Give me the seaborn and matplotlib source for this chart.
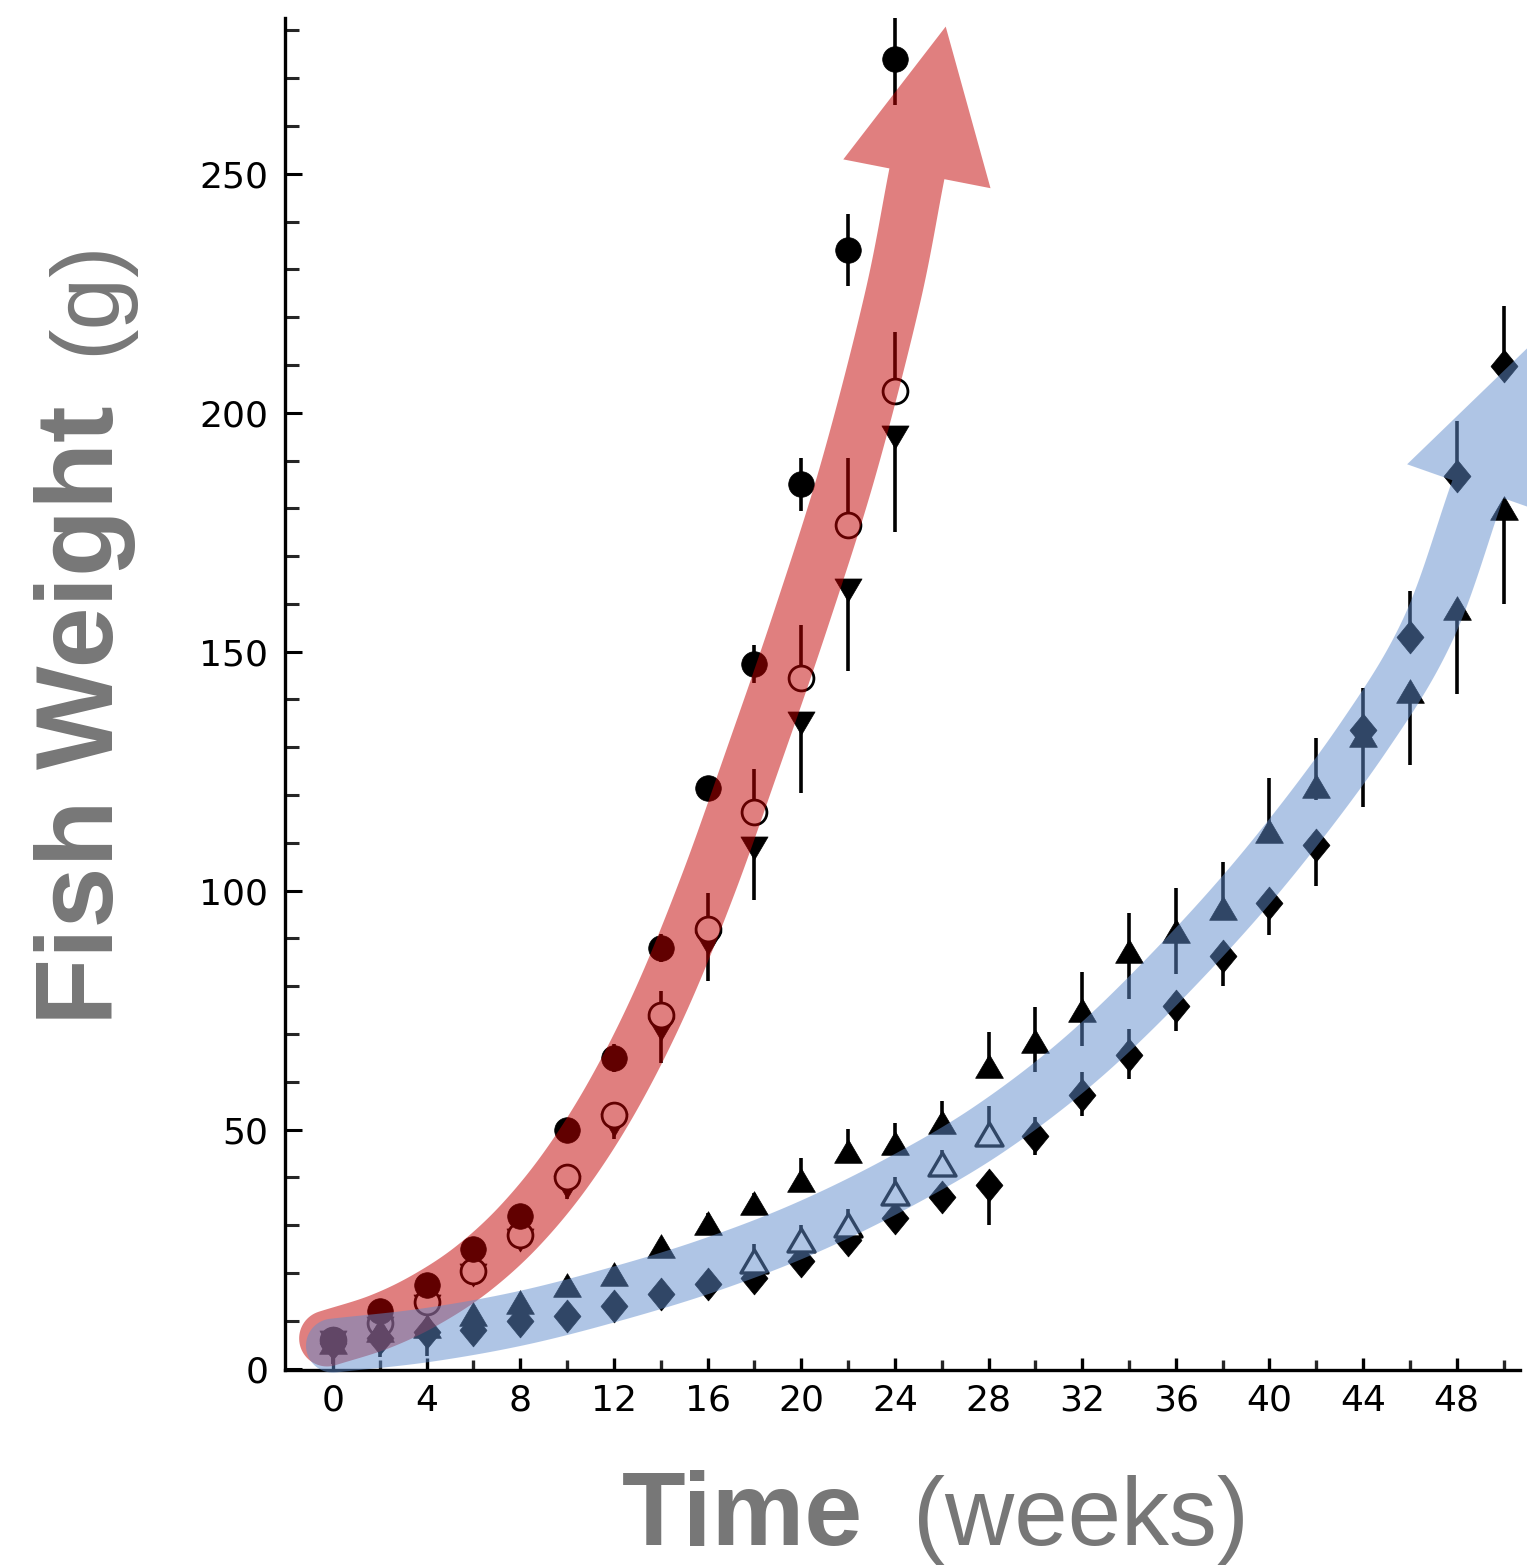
import numpy as np
import pandas as pd
import matplotlib
matplotlib.use("Agg")
import matplotlib.pyplot as plt
from matplotlib.path import Path
from matplotlib.patches import Polygon
from matplotlib.transforms import IdentityTransform
import seaborn as sns

sns.set_theme(style="ticks")
plt.rcParams["font.family"] = ["DejaVu Sans"]

W, H = 1527, 1566

# --- fast growing group (under the red arrow) ---
weeks_fast = [0, 2, 4, 6, 8, 10, 12, 14, 16, 18, 20, 22, 24]
circle_filled = [6, 12, 17.4, 25, 32, 50, 65, 88, 121.5, 147.5, 185, 234, 274]
circle_filled_err = [1.5, 1.5, 1.5, 2, 2, 2.5, 3, 3, 2.5, 4, 5.5, 7.5, 9.5]
circle_open = [6, 9.5, 14, 20.5, 28, 40, 53, 74, 92, 116.5, 144.5, 176.5, 204.5]
circle_open_err_up = [0.5, 0.5, 1, 1, 1.5, 2, 2.5, 5, 7.5, 9, 11, 14, 12.5]
tri_down = [5.5, 8.5, 13, 19.5, 27, 38, 51, 71, 89, 109, 135, 163, 195]
tri_down_err_low = [4.5, 1, 1, 1.5, 1.5, 2.5, 3, 7, 8, 11, 14.5, 17, 20]

# --- slow growing group (under the blue arrow) ---
weeks_slow = [0, 2, 4, 6, 8, 10, 12, 14, 16, 18, 20, 22, 24,
              26, 28, 30, 32, 34, 36, 38, 40, 42, 44, 46, 48, 50]
tri_up = [5.5, 8, 9, 11.5, 14, 17.5, 19.7, 25.7, 30.5, 34.7, 39.5, 45.6, 47.3,
          51.5, 63.4, 68.6, 75, 87.4, 91.6, 96.4, 112.5, 122, 132.6, 141.8, 159.2, 180]
tri_up_err_up = [0.5, 0.5, 1, 1, 1.5, 1.5, 1.5, 1.5, 2, 2, 4.5, 4.5, 4,
                 4.5, 7, 7, 8, 8, 9, 9.5, 11, 10, 0, 0, 0, 0]
tri_up_err_low = [0.5, 0.5, 1, 1, 1, 1, 1, 1.5, 2, 2, 1, 1, 1,
                  1, 1, 6.5, 7.5, 10, 9, 2, 2, 3, 15, 15.5, 18, 20]
diamond = [5.4, 6.5, 7.7, 8, 10, 11, 13, 15.5, 17.6, 19, 22.6, 26.8, 31.6,
           35.8, 38.5, 48.7, 57.3, 65.7, 75.9, 86.4, 97.5, 109.6, 133.7, 153, 186.8, 209.8]
diamond_err_low = [4.5, 4, 5, 1.5, 1.5, 1.5, 1.5, 1.5, 1.5, 1.5, 1.5, 2, 2,
                   2.5, 8.5, 4, 4.5, 5.2, 5.2, 6.4, 6.7, 8.6, 2, 0, 0, 0]
diamond_err_up = [1, 1, 1, 1, 1, 1, 1, 1, 1.5, 1.5, 1.5, 2, 2,
                  2.5, 2, 4, 4.7, 5.3, 2.3, 2, 2, 2, 8.8, 9.7, 11.5, 12.6]
weeks_open_tri = [18, 20, 22, 24, 26, 28]
tri_open = [22.6, 26.8, 30.1, 36.8, 42.7, 49]
tri_open_err_up = [3.4, 3.2, 3.2, 3.2, 3, 6]

# --- centre lines of the two highlight arrows (week, g) ---
red_arrow_week = [-0.25, 2, 4, 6, 8, 10, 12, 14, 16, 18, 20, 22, 23.88, 24.94]
red_arrow_weight = [6.3, 9.8, 14.5, 21, 30, 42, 57.5, 77, 101, 128.5, 157, 188, 223.6, 250]
blue_arrow_week = [0, 4, 8, 12, 16, 20, 24, 28, 32, 36, 40, 44, 46.8, 48.9]
blue_arrow_weight = [4.8, 7, 10.5, 15.5, 21.5, 29, 38.5, 50, 65, 84, 106, 132, 155, 184]

TRI_UP = Path([(0, 0.85), (-1, -0.85), (1, -0.85), (0, 0.85)], closed=True)
TRI_DOWN = Path([(0, -0.85), (-1, 0.85), (1, 0.85), (0, -0.85)], closed=True)
DIAMOND = Path([(0, 1), (0.82, 0), (0, -1), (-0.82, 0), (0, 1)], closed=True)


def draw_points(ax, weeks, values, marker, size, filled=True, lw=2.2):
    df = pd.DataFrame({"week": weeks, "weight": values})
    face = "black" if filled else "white"
    sns.scatterplot(data=df, x="week", y="weight", marker=marker, s=size,
                    color=face, edgecolor="black", linewidth=lw if not filled else 0.5,
                    ax=ax, zorder=3, legend=False)


def draw_bars(ax, weeks, values, low, high):
    v = np.asarray(values, float)
    ax.vlines(weeks, v - np.asarray(low, float), v + np.asarray(high, float),
              colors="black", linewidth=2.6, zorder=2)


def smooth_line(pts, n_per=40):
    p = np.vstack([2 * pts[0] - pts[1], pts, 2 * pts[-1] - pts[-2]])
    out = []
    t = np.linspace(0, 1, n_per, endpoint=False)[:, None]
    for i in range(1, len(p) - 2):
        p0, p1, p2, p3 = p[i - 1], p[i], p[i + 1], p[i + 2]
        seg = 0.5 * (2 * p1 + (-p0 + p2) * t + (2 * p0 - 5 * p1 + 4 * p2 - p3) * t ** 2
                     + (-p0 + 3 * p1 - 3 * p2 + p3) * t ** 3)
        out.append(seg)
    out.append(pts[-1][None, :])
    return np.vstack(out)


def arrow_outline(ax, weeks, weights, width, head_w=150, head_len=150):
    pts = ax.transData.transform(np.column_stack([weeks, weights]))
    c = smooth_line(pts)
    d = np.gradient(c, axis=0)
    t = d / np.linalg.norm(d, axis=1)[:, None]
    nrm = np.column_stack([-t[:, 1], t[:, 0]])
    half = width / 2
    left = c + nrm * half
    right = c - nrm * half
    te, ne = t[-1], nrm[-1]
    head = np.array([c[-1] + ne * head_w / 2, c[-1] + te * head_len, c[-1] - ne * head_w / 2])
    phi = np.linspace(-np.pi / 2, np.pi / 2, 40)[:, None]
    cap = c[0] + half * (-t[0] * np.cos(phi) + nrm[0] * np.sin(phi))
    return np.vstack([left, head, right[::-1], cap])


fig = plt.figure(figsize=(W / 100, H / 100), dpi=100)
ax = fig.add_axes([285 / W, (H - 1370) / H, (1520 - 285) / W, (1370 - 18) / H])
ax.set_xlim(-2.05, 50.7)
ax.set_ylim(-0.3, 282.6)

# error bars
draw_bars(ax, weeks_fast, circle_filled, circle_filled_err, circle_filled_err)
draw_bars(ax, weeks_fast, circle_open, [0] * len(weeks_fast), circle_open_err_up)
draw_bars(ax, weeks_fast, tri_down, tri_down_err_low, [0] * len(weeks_fast))
draw_bars(ax, weeks_slow, tri_up, tri_up_err_low, tri_up_err_up)
draw_bars(ax, weeks_slow, diamond, diamond_err_low, diamond_err_up)
draw_bars(ax, weeks_open_tri, tri_open, [0] * len(weeks_open_tri), tri_open_err_up)

# markers
draw_points(ax, weeks_fast, tri_down, TRI_DOWN, 380)
draw_points(ax, weeks_fast, circle_open, "o", 320, filled=False, lw=2.0)
draw_points(ax, weeks_fast, circle_filled, "o", 340)
draw_points(ax, weeks_slow, diamond, DIAMOND, 560)
draw_points(ax, weeks_slow, tri_up, TRI_UP, 400)
draw_points(ax, weeks_open_tri, tri_open, TRI_UP, 380, filled=False, lw=2.4)

# axes styling
for side in ["top", "right"]:
    ax.spines[side].set_visible(False)
for side in ["left", "bottom"]:
    ax.spines[side].set_linewidth(2.4)
    ax.spines[side].set_color("black")
ax.set_xticks([0, 4, 8, 12, 16, 20, 24, 28, 32, 36, 40, 44, 48])
ax.set_xticks([2, 6, 10, 14, 18, 22, 26, 30, 34, 38, 42, 46, 50], minor=True)
ax.set_yticks([0, 50, 100, 150, 200, 250])
ax.set_yticks([10, 20, 30, 40, 60, 70, 80, 90, 110, 120, 130, 140, 160, 170, 180, 190,
               210, 220, 230, 240, 260, 270, 280], minor=True)
ax.tick_params(axis="y", which="major", direction="in", length=12, width=2.2,
               labelsize=26, pad=12, colors="black")
ax.tick_params(axis="y", which="minor", direction="in", length=10, width=2.2)
ax.tick_params(axis="x", which="major", direction="in", length=9, width=2.4,
               labelsize=26, pad=10, colors="black")
ax.tick_params(axis="x", which="minor", direction="in", length=7, width=2.4)
ax.set_xlabel("")
ax.set_ylabel("")
ax.grid(False)

# highlight arrows (drawn in pixel space after the layout is fixed)
red_verts = arrow_outline(ax, red_arrow_week, red_arrow_weight, 56)
blue_verts = arrow_outline(ax, blue_arrow_week, blue_arrow_weight, 54)
ax.add_patch(Polygon(red_verts, closed=True, transform=IdentityTransform(),
                     facecolor="#C20000", edgecolor="none", alpha=0.5, zorder=5, clip_on=False))
ax.add_patch(Polygon(blue_verts, closed=True, transform=IdentityTransform(),
                     facecolor="#618DCD", edgecolor="none", alpha=0.5, zorder=6, clip_on=False))

# axis titles
gray = "#777777"
lab_font = ["Liberation Sans", "DejaVu Sans"]
ylab = fig.text(113 / W, 1 - 1025 / H, "Fish Weight", rotation=90, rotation_mode="anchor",
                ha="left", va="baseline", fontsize=79, fontweight="bold", color=gray,
                family=lab_font)
xlab = fig.text(622 / W, 1 - 1545 / H, "Time", ha="left", va="baseline",
                fontsize=75, fontweight="bold", color=gray, family=lab_font)
fig.canvas.draw()
yb = ylab.get_window_extent()
xb = xlab.get_window_extent()
fig.text(113 / W, (yb.y1 + 50) / H, "(g)", rotation=90, rotation_mode="anchor",
         ha="left", va="baseline", fontsize=68, color=gray, family=lab_font)
fig.text((xb.x1 + 50) / W, 1 - 1545 / H, "(weeks)", ha="left", va="baseline",
         fontsize=69, color=gray, family=lab_font)

fig.savefig("out.png", dpi=100, facecolor="white")
